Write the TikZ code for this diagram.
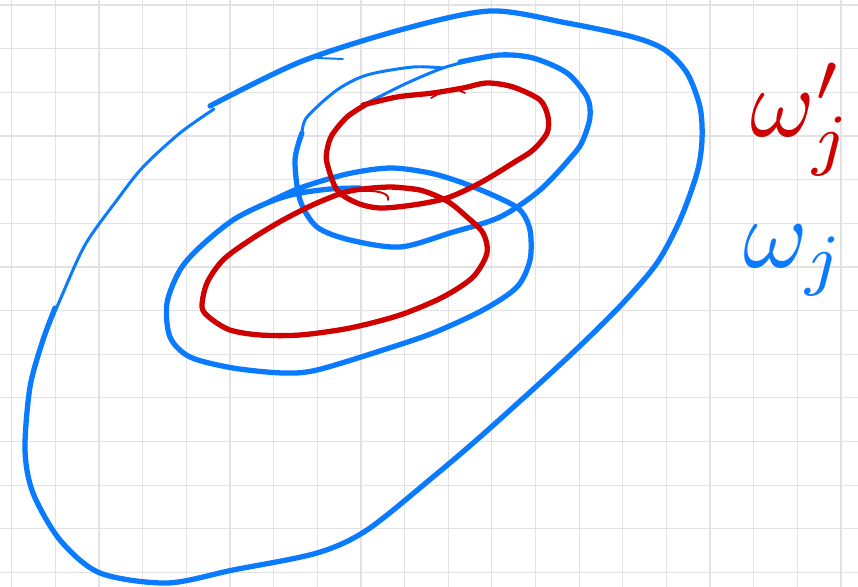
\documentclass[tikz,border=0pt]{standalone}
\usepackage{amsmath,amssymb}
\usepackage{graphicx}
\usepackage{xcolor}
\usepackage{tikz}
\definecolor{penblue}{RGB}{10,122,255}
\definecolor{penred}{RGB}{206,0,0}
\definecolor{gridgray}{RGB}{226,226,226}
\tikzset{thickpen/.style={line width=3pt},thinpen/.style={line width=1.7pt}}
\begin{document}
\begin{tikzpicture}[x=0.02cm,y=-0.02cm,line cap=round,line join=round]
\useasboundingbox (0,0) rectangle (858,587);
\fill[white](0,0) rectangle (858,587);
\foreach \i in {0,...,19}
\draw[gridgray,line width=0.7pt]({11.7+43.65*\i},0)--({11.7+43.65*\i},587);
\foreach \i in {0,...,13}
\draw[gridgray,line width=0.7pt](0,{5+43.65*\i})--(858,{5+43.65*\i});
\draw[penblue,thickpen]plot[smooth]coordinates{(210,106)(300,62)(400,30)(490,11)(567,23)(633,37)(665,50)(687,73)(700,107)(702,140)(697,173)(680,220)(657,263)(623,303)(583,343)(540,383)(480,437)(433,477)(367,530)(317,553)(233,570)(167,583)(100,573)(60,540)(33,493)(25,450)(30,387)(43,340)(55,308)};
\draw[penblue,thinpen]plot[smooth]coordinates{(43,340)(60,300)(85,245)(117,200)(143,167)(180,133)(214,109)};
\draw[penblue,line width=1.1pt](317,58)--(343,59);
\draw[penblue,thinpen]plot[smooth]coordinates{(367,103)(405,84)(443,68)(480,58)};
\draw[penblue,thickpen]plot[smooth]coordinates{(460,62)(500,55)(533,58)(567,73)(587,97)(590,117)(583,140)(573,155)(540,190)(500,217)(450,233)(400,247)(350,240)(317,227)(300,200)(295,160)(302,133)};
\draw[penblue,thinpen]plot[smooth]coordinates{(302,133)(307,117)(337,90)(367,75)(413,67)(443,68)};
\draw[penblue,thickpen]plot[smooth]coordinates{(267,203)(300,188)(347,174)(390,168)(430,173)(463,183)(497,197)(520,210)(530,230)(530,260)(517,287)(483,310)(433,333)(383,350)(317,370)(283,373)(233,368)(190,357)(170,337)(167,303)(180,270)(200,247)(233,220)(267,203)(295,194)(330,189)(360,188)};
\draw[penred,thickpen]plot[smooth]coordinates{(363,105)(397,97)(433,93)(463,88)(487,83)(513,87)(540,100)(548,117)(547,133)(533,150)(513,163)(480,183)(447,198)(413,205)(380,208)(357,203)(337,190)(327,163)(327,150)(332,135)(347,117)(365,105)};
\draw[penred,line width=1pt](440,93)--(431,98) (458,90)--(465,93);
\draw[penred,thickpen]plot[smooth]coordinates{(420,190)(390,187)(350,191)(317,203)(283,220)(250,240)(223,260)(207,283)(202,307)(210,318)(230,330)(260,335)(300,335)(350,328)(400,315)(443,297)(473,277)(487,253)(483,233)(467,217)(447,201)(420,190)(390,187)};
\draw[penred,line width=1.1pt](357,191)..controls(378,190)and(390,193)..(388,200);
\node[anchor=base west,inner sep=0pt,text=penred](wjprime)at(750,137){\scalebox{5.6}{$\omega_j'$}};
\node[anchor=base west,inner sep=0pt,text=penblue](wj)at(743,268){\scalebox{5.6}{$\omega_j$}};
\end{tikzpicture}
\end{document}
